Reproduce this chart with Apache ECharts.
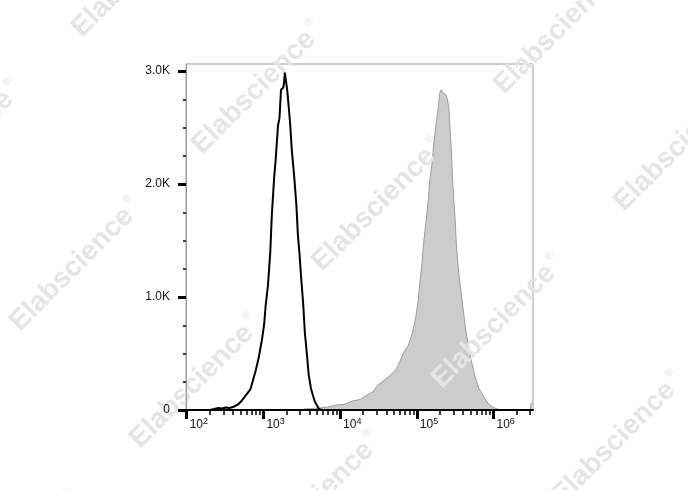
<!DOCTYPE html>
<html>
<head>
<meta charset="utf-8">
<script src="https://cdn.jsdelivr.net/npm/echarts@6/dist/echarts.min.js"></script>
<style>
  html, body { margin: 0; padding: 0; background: #fff; }
  #chart { width: 688px; height: 490px; }
</style>
</head>
<body>
<div id="chart"></div>
<script>
// ---- data (x = log10 fluorescence intensity, y = cell count) ----
const ctrlLogFI = [2.30,2.36,2.41,2.46,2.51,2.56,2.62,2.67,2.72,2.77,2.83,2.86,2.90,2.94,2.98,3.01,3.03,3.06,3.09,3.11,3.14,3.16,3.19,3.21,3.23,3.26,3.27,3.28,3.29,3.31,3.33,3.35,3.37,3.40,3.43,3.45,3.47,3.49,3.52,3.54,3.57,3.59,3.62,3.65,3.67,3.70,3.72,3.76];
const ctrlCount = [0,9,18,13,22,18,31,49,84,129,182,253,350,466,617,759,927,1105,1400,1726,2054,2214,2515,2587,2835,2853,2906,2986,2933,2835,2684,2524,2303,2081,1815,1548,1389,1193,927,688,475,315,191,120,75,40,13,0];

const stainLogFI = [3.45,3.54,3.63,3.74,3.84,3.95,4.05,4.16,4.26,4.34,4.42,4.49,4.57,4.65,4.73,4.78,4.83,4.89,4.94,4.98,5.02,5.04,5.07,5.09,5.12,5.15,5.17,5.20,5.22,5.25,5.28,5.30,5.32,5.34,5.36,5.38,5.40,5.42,5.43,5.45,5.47,5.50,5.52,5.55,5.59,5.63,5.67,5.71,5.76,5.81,5.88,5.93,5.98,6.03,6.10,6.48,6.49,6.515];
const stainCount = [0,9,13,18,27,44,49,80,92,128,158,218,262,305,359,430,510,572,679,794,972,1131,1309,1486,1664,1859,2036,2187,2347,2524,2675,2808,2835,2808,2817,2791,2746,2657,2524,2303,1992,1681,1415,1193,972,750,572,439,297,191,111,58,31,13,0,0,60,60];

// ---- axis ticks / labels ----
const xDecades = [2, 3, 4, 5, 6];
const xMinorMultipliers = [2, 3, 4, 5, 6, 7, 8, 9];
const yMajorTicks = [0, 1000, 2000, 3000];
const yMajorLabels = ['0', '1.0K', '2.0K', '3.0K'];
const yMinorTicks = [250, 500, 750, 1250, 1500, 1750, 2250, 2500, 2750];
const xMin = 1.991, xMax = 6.515, yMax = 3062;

const xMinorTicks = [];
xDecades.forEach(d => xMinorMultipliers.forEach(k => {
  const v = d + Math.log10(k);
  if (v < xMax) xMinorTicks.push(v);
}));

const FONT = 'Liberation Sans, Arial, sans-serif';

// watermarks (decoration)
const wmBase = [258, 88], wmU = [120, 117], wmV = [-182, 177];
const watermarks = [];
for (let i = -2; i <= 4; i++) {
  for (let j = -2; j <= 3; j++) {
    const x = wmBase[0] + i * wmU[0] + j * wmV[0];
    const y = wmBase[1] + i * wmU[1] + j * wmV[1];
    if (x > -110 && x < 800 && y > -110 && y < 600) {
      watermarks.push({
        type: 'text', x: x, y: y, rotation: Math.PI / 4, z: 3, silent: true,
        style: {
          text: '{t|Elabscience}{r|®}',
          align: 'center', verticalAlign: 'middle',
          rich: {
            t: { fontSize: 28, fontWeight: 'bold', fontFamily: FONT, fill: '#e5e5e5', lineHeight: 32 },
            r: { fontSize: 11, fontFamily: FONT, fill: '#e5e5e5', verticalAlign: 'top', lineHeight: 12, padding: [0, 0, 0, 4] }
          }
        }
      });
    }
  }
}

const chart = echarts.init(document.getElementById('chart'), null, { renderer: 'canvas' });
chart.setOption({
  animation: false,
  backgroundColor: '#ffffff',
  grid: { left: 186, right: 155, top: 64, bottom: 80, show: true, borderColor: '#9a9a9a', borderWidth: 1, backgroundColor: 'transparent' },
  xAxis: [
    {
      type: 'value', min: xMin, max: xMax, position: 'bottom', z: 4,
      axisLine: { show: true, onZero: false, lineStyle: { color: '#000', width: 2 } },
      axisTick: { show: true, customValues: xDecades, length: 9, lineStyle: { color: '#000', width: 3 } },
      axisLabel: {
        show: true, customValues: xDecades, margin: 7, align: 'left', padding: [0, 0, 0, 3],
        formatter: v => '{b|10}{s|' + Math.round(v) + '}',
        rich: {
          b: { fontSize: 12, fontFamily: FONT, color: '#111', lineHeight: 16 },
          s: { fontSize: 9, fontFamily: FONT, color: '#111', lineHeight: 7, verticalAlign: 'top' }
        }
      },
      splitLine: { show: false }
    },
    {
      type: 'value', min: xMin, max: xMax, position: 'bottom', z: 4,
      axisLine: { show: false },
      axisTick: { show: true, customValues: xMinorTicks, length: 5, lineStyle: { color: '#000', width: 1.5 } },
      axisLabel: { show: false },
      splitLine: { show: false }
    }
  ],
  yAxis: [
    {
      type: 'value', min: 0, max: yMax, position: 'left', z: 4,
      axisLine: { show: true, onZero: false, lineStyle: { color: '#9a9a9a', width: 1 } },
      axisTick: { show: true, customValues: yMajorTicks, length: 8, lineStyle: { color: '#000', width: 3 } },
      axisLabel: {
        show: true, customValues: yMajorTicks, margin: 16, fontSize: 12, fontFamily: FONT, color: '#111',
        formatter: v => yMajorLabels[yMajorTicks.indexOf(v)]
      },
      splitLine: { show: false }
    },
    {
      type: 'value', min: 0, max: yMax, position: 'left', z: 4,
      axisLine: { show: false },
      axisTick: { show: true, customValues: yMinorTicks, length: 3, lineStyle: { color: '#000', width: 1.5 } },
      axisLabel: { show: false },
      splitLine: { show: false }
    }
  ],
  series: [
    {
      name: 'Stained', type: 'line', xAxisIndex: 0, yAxisIndex: 0, z: 2,
      showSymbol: false, symbol: 'none', smooth: false,
      data: stainLogFI.map((x, i) => [x, stainCount[i]]),
      lineStyle: { color: '#9c9c9c', width: 1 },
      areaStyle: { color: '#cccccc', opacity: 1 }
    },
    {
      name: 'Control', type: 'line', xAxisIndex: 0, yAxisIndex: 0, z: 5,
      showSymbol: false, symbol: 'none', smooth: false,
      data: ctrlLogFI.map((x, i) => [x, ctrlCount[i]]),
      lineStyle: { color: '#000000', width: 2 }
    }
  ],
  graphic: watermarks
});
</script>
</body>
</html>
